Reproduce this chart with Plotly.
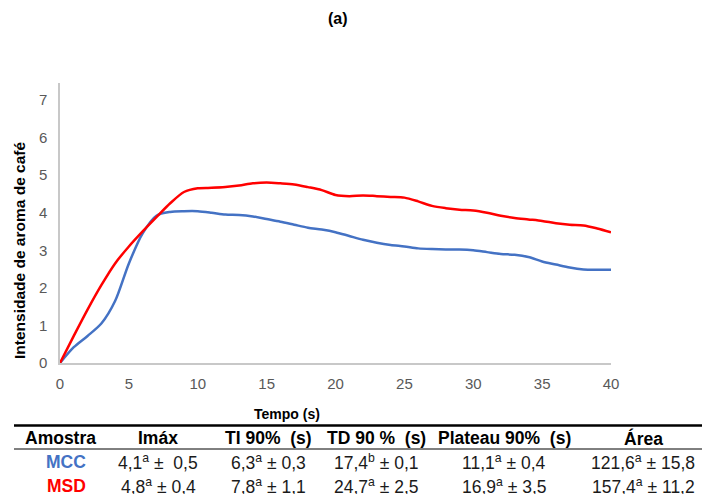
import plotly.graph_objects as go

# ---------------- data ----------------
tempo = list(range(0, 41))
mcc = [0, 0.42, 0.72, 1.05, 1.65, 2.65, 3.45, 3.92, 4.02, 4.04, 4.04, 4.0, 3.95, 3.94, 3.9,
       3.83, 3.76, 3.68, 3.6, 3.55, 3.48, 3.38, 3.28, 3.2, 3.14, 3.1, 3.05, 3.03, 3.02, 3.02,
       3.0, 2.95, 2.9, 2.88, 2.82, 2.7, 2.62, 2.54, 2.49, 2.48, 2.48]
msd = [0, 0.72, 1.42, 2.07, 2.65, 3.1, 3.5, 3.88, 4.25, 4.55, 4.65, 4.66, 4.68, 4.72, 4.78,
       4.8, 4.78, 4.75, 4.68, 4.6, 4.47, 4.44, 4.46, 4.44, 4.42, 4.4, 4.3, 4.18, 4.12, 4.08,
       4.06, 4.0, 3.92, 3.86, 3.82, 3.78, 3.72, 3.68, 3.66, 3.58, 3.48]

table_headers = ["Amostra", "Imáx", "TI 90%  (s)", "TD 90 %  (s)", "Plateau 90%  (s)", "Área"]
samples = ["MCC", "MSD"]
row_mcc = ["4,1<sup>a</sup> ±  0,5", "6,3<sup>a</sup> ± 0,3", "17,4<sup>b</sup> ± 0,1",
           "11,1<sup>a</sup> ± 0,4", "121,6<sup>a</sup> ± 15,8"]
row_msd = ["4,8<sup>a</sup> ± 0,4", "7,8<sup>a</sup> ± 1,1", "24,7<sup>a</sup> ± 2,5",
           "16,9<sup>a</sup> ± 3,5", "157,4<sup>a</sup> ± 11,2"]

# ---------------- layout geometry ----------------
W, H = 702, 494
L, R, T, B = 60, 91, 83, 131
PW, PH = W - L - R, H - T - B
FONT = "Liberation Sans, Arial, sans-serif"

def px(x):
    return (x - L) / PW

def py(y):
    return (H - B - y) / PH

fig = go.Figure()
fig.add_trace(go.Scatter(x=tempo, y=mcc, mode="lines", name="MCC",
                         line=dict(color="#4472C4", width=2.5, shape="spline", smoothing=0.8)))
fig.add_trace(go.Scatter(x=tempo, y=msd, mode="lines", name="MSD",
                         line=dict(color="#FF0000", width=2.5, shape="spline", smoothing=0.8)))

def text_ann(text, x, y, size, color="#000000", angle=0):
    return dict(text=text, x=px(x), y=py(y), xref="paper", yref="paper",
                xanchor="center", yanchor="middle", textangle=angle, showarrow=False,
                font=dict(size=size, color=color, family=FONT))

ann = []
ann.append(text_ann("<b>(a)</b>", 338, 19, 16))
ann.append(text_ann("<b>Intensidade de aroma de café</b>", 19, 251, 15.5, angle=-90))
ann.append(text_ann("<b>Tempo (s)</b>", 287, 414, 14))

col_x = [60, 158, 268, 376, 504, 643]
for cx, h in zip(col_x, table_headers):
    ann.append(text_ann("<b>" + h + "</b>", cx, 438, 17.5))

sample_colors = ["#4472C4", "#FF0000"]
row_y = [462, 486]
for s, c, ry, vals in zip(samples, sample_colors, row_y, [row_mcc, row_msd]):
    ann.append(text_ann("<b>" + s + "</b>", 66, ry, 17.5, color=c))
    for cx, v in zip(col_x[1:], vals):
        ann.append(text_ann(v, cx, ry, 17.5, color="#1a1a1a"))

shapes = [
    dict(type="line", xref="paper", yref="paper", x0=px(14), x1=px(702), y0=py(425.5), y1=py(425.5),
         line=dict(color="#000000", width=2.5)),
    dict(type="line", xref="paper", yref="paper", x0=px(14), x1=px(702), y0=py(449), y1=py(449),
         line=dict(color="#000000", width=1)),
]

fig.update_layout(
    width=W, height=H,
    margin=dict(l=L, r=R, t=T, b=B),
    paper_bgcolor="white", plot_bgcolor="white",
    showlegend=False,
    font=dict(family=FONT),
    annotations=ann, shapes=shapes,
    xaxis=dict(range=[0, 40], tickvals=[0, 5, 10, 15, 20, 25, 30, 35, 40], showgrid=False,
               zeroline=False, showline=True, linecolor="#C8C8C8", linewidth=1.5,
               ticks="", ticklabelstandoff=6,
               tickfont=dict(size=15, color="#595959", family=FONT)),
    yaxis=dict(range=[0, 7.45], tickvals=[0, 1, 2, 3, 4, 5, 6, 7], showgrid=False,
               zeroline=False, showline=True, linecolor="#C8C8C8", linewidth=1.5,
               ticks="", ticklabelstandoff=8,
               tickfont=dict(size=15, color="#595959", family=FONT)),
)

fig.write_html("out.html")
